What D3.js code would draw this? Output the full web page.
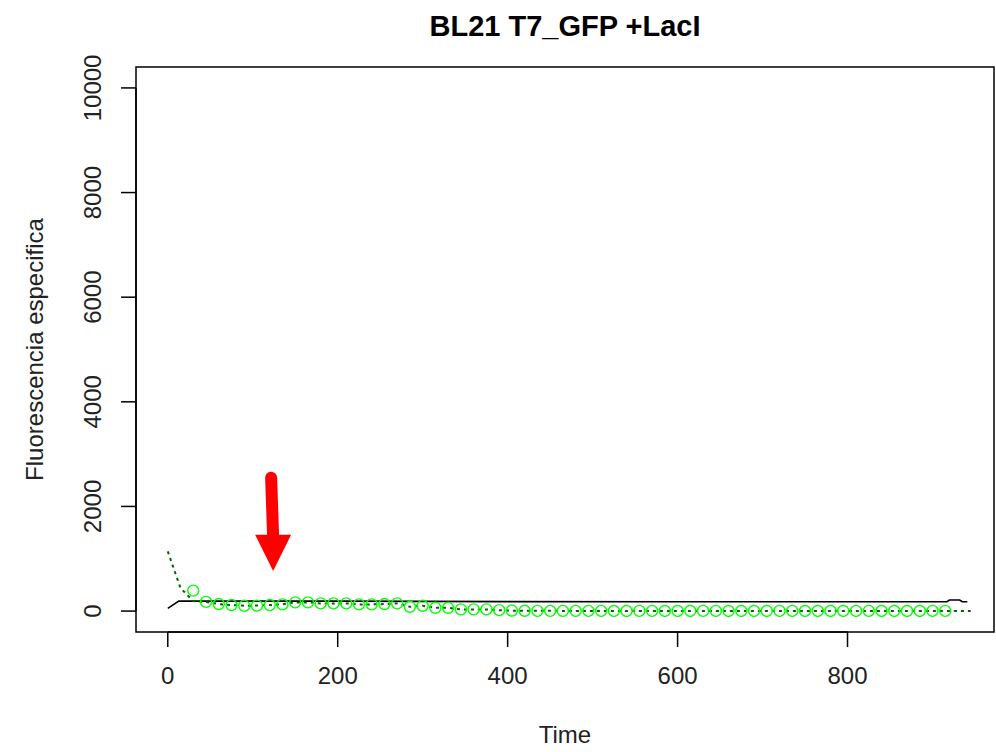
<!DOCTYPE html>
<html>
<head>
<meta charset="utf-8">
<script src="https://cdn.jsdelivr.net/npm/d3@7"></script>
<style>
  body { margin: 0; background: white; }
  svg { display: block; font-family: "Liberation Sans", Arial, sans-serif; }
</style>
</head>
<body>
<svg id="chart" width="996" height="752"></svg>
<script>
// datos
const title = "BL21 T7_GFP +LacI";
const xLabel = "Time";
const yLabel = "Fluorescencia especifica";
const xTicks = [0, 200, 400, 600, 800];
const yTicks = [0, 2000, 4000, 6000, 8000, 10000];
const xLim = [0, 935];
const yLim = [0, 10000];

// circulos verdes (cada 15 min)
const pointTimes = [30, 45, 60, 75, 90, 105, 120, 135, 150, 165, 180, 195, 210, 225, 240, 255, 270, 285, 300, 315,
  330, 345, 360, 375, 390, 405, 420, 435, 450, 465, 480, 495, 510, 525, 540, 555, 570, 585, 600, 615,
  630, 645, 660, 675, 690, 705, 720, 735, 750, 765, 780, 795, 810, 825, 840, 855, 870, 885, 900, 915];
const pointValues = [391, 175, 134, 115, 101, 105, 115, 128, 166, 166, 147, 147, 147, 128, 128, 134, 147, 82, 101, 63,
  63, 32, 32, 32, 18, 8, 5, 4, 4, 3, 3, 3, 3, 2, 2, 3, 3, 2, 2, 2,
  3, 3, 2, 2, 2, 2, 3, 3, 2, 2, 2, 2, 3, 3, 2, 2, 2, 2, 3, 3];

// linea punteada verde oscuro
const dottedTimes = [0, 15, 30, 45, 60, 75, 90, 105, 120, 135, 150, 165, 180, 195, 210, 225, 240, 255, 270, 285,
  300, 315, 330, 345, 360, 375, 390, 405, 420, 450, 500, 600, 700, 800, 900, 945];
const dottedValues = [1140, 440, 190, 175, 134, 115, 101, 105, 115, 128, 166, 166, 147, 147, 147, 128, 128, 134, 147, 82,
  101, 63, 63, 32, 32, 32, 18, 8, 5, 4, 3, 3, 3, 3, 3, 3];

// linea negra
const blackTimes = [0, 13, 200, 400, 600, 917, 920, 932, 935, 941];
const blackValues = [52, 191, 191, 180, 178, 178, 212, 212, 178, 178];

// flecha roja (anotacion)
const arrowTime = 124;
const arrowFrom = 2550;
const arrowHead = 1460;
const arrowTip = 767;

const svg = d3.select("#chart");

const plotLeft = 136, plotRight = 994, plotTop = 67, plotBottom = 632;

// como R: rango ampliado 4% a cada lado
const pad = (lim) => {
  const r = lim[1] - lim[0];
  return [lim[0] - 0.04 * r, lim[1] + 0.04 * r];
};

const x = d3.scaleLinear().domain(pad(xLim)).range([plotLeft, plotRight]);
const y = d3.scaleLinear().domain(pad(yLim)).range([plotBottom, plotTop]);

// titulo
svg.append("text")
  .attr("x", (plotLeft + plotRight) / 2)
  .attr("y", 36)
  .attr("text-anchor", "middle")
  .attr("font-size", 29)
  .attr("font-weight", "bold")
  .text(title);

// caja del grafico
svg.append("rect")
  .attr("x", plotLeft)
  .attr("y", plotTop)
  .attr("width", plotRight - plotLeft)
  .attr("height", plotBottom - plotTop)
  .attr("fill", "none")
  .attr("stroke", "black")
  .attr("stroke-width", 1.5);

// eje x
const xAxis = svg.append("g").attr("class", "x-axis");
xAxis.append("line")
  .attr("x1", x(xTicks[0]))
  .attr("x2", x(xTicks[xTicks.length - 1]))
  .attr("y1", plotBottom)
  .attr("y2", plotBottom)
  .attr("stroke", "black")
  .attr("stroke-width", 1.5);
xAxis.selectAll(".tick")
  .data(xTicks)
  .enter()
  .append("line")
  .attr("x1", d => x(d))
  .attr("x2", d => x(d))
  .attr("y1", plotBottom)
  .attr("y2", plotBottom + 15)
  .attr("stroke", "black")
  .attr("stroke-width", 1.5);
xAxis.selectAll(".lbl")
  .data(xTicks)
  .enter()
  .append("text")
  .attr("x", d => x(d))
  .attr("y", 684)
  .attr("text-anchor", "middle")
  .attr("font-size", 24)
  .attr("fill", "#222")
  .text(d => d);

// eje y
const yAxis = svg.append("g").attr("class", "y-axis");
yAxis.append("line")
  .attr("x1", plotLeft)
  .attr("x2", plotLeft)
  .attr("y1", y(yTicks[0]))
  .attr("y2", y(yTicks[yTicks.length - 1]))
  .attr("stroke", "black")
  .attr("stroke-width", 1.5);
yAxis.selectAll(".tick")
  .data(yTicks)
  .enter()
  .append("line")
  .attr("x1", plotLeft - 15)
  .attr("x2", plotLeft)
  .attr("y1", d => y(d))
  .attr("y2", d => y(d))
  .attr("stroke", "black")
  .attr("stroke-width", 1.5);
yAxis.selectAll(".lbl")
  .data(yTicks)
  .enter()
  .append("text")
  .attr("transform", d => `translate(101,${y(d)}) rotate(-90)`)
  .attr("text-anchor", "middle")
  .attr("font-size", 24)
  .attr("fill", "#222")
  .text(d => d);

// titulos de ejes
svg.append("text")
  .attr("x", (plotLeft + plotRight) / 2)
  .attr("y", 743)
  .attr("text-anchor", "middle")
  .attr("font-size", 24)
  .attr("fill", "#222")
  .text(xLabel);

svg.append("text")
  .attr("transform", `translate(43,${(plotTop + plotBottom) / 2}) rotate(-90)`)
  .attr("text-anchor", "middle")
  .attr("font-size", 24)
  .attr("fill", "#222")
  .text(yLabel);

const line = d3.line()
  .x(d => x(d[0]))
  .y(d => y(d[1]));

// linea negra
svg.append("path")
  .datum(blackTimes.map((t, i) => [t, blackValues[i]]))
  .attr("d", line)
  .attr("fill", "none")
  .attr("stroke", "black")
  .attr("stroke-width", 1.6);

// linea punteada
svg.append("path")
  .datum(dottedTimes.map((t, i) => [t, dottedValues[i]]))
  .attr("d", line)
  .attr("fill", "none")
  .attr("stroke", "#006400")
  .attr("stroke-width", 2)
  .attr("stroke-dasharray", "3,4");

// circulos verdes
svg.append("g")
  .selectAll("circle")
  .data(pointTimes.map((t, i) => [t, pointValues[i]]))
  .enter()
  .append("circle")
  .attr("cx", d => x(d[0]))
  .attr("cy", d => y(d[1]))
  .attr("r", 5.5)
  .attr("fill", "none")
  .attr("stroke", "#00ff00")
  .attr("stroke-width", 1.4);

// flecha roja
const ax = x(arrowTime);
svg.append("line")
  .attr("x1", ax - 2)
  .attr("y1", y(arrowFrom))
  .attr("x2", ax)
  .attr("y2", y(arrowHead) + 2)
  .attr("stroke", "red")
  .attr("stroke-width", 12)
  .attr("stroke-linecap", "round");
svg.append("path")
  .attr("d", `M${ax - 18},${y(arrowHead)} L${ax + 18},${y(arrowHead)} L${ax},${y(arrowTip)} Z`)
  .attr("fill", "red");
</script>
</body>
</html>
